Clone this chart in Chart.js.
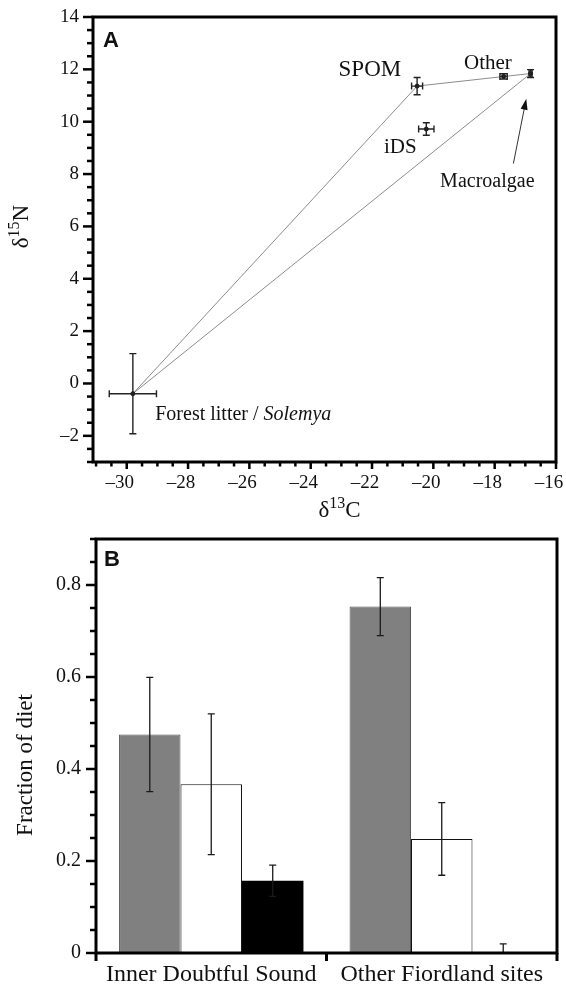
<!DOCTYPE html>
<html>
<head>
<meta charset="utf-8">
<script src="https://cdn.jsdelivr.net/npm/chart.js@4.4.1/dist/chart.umd.min.js"></script>
<style>
  body { margin: 0; background: #fff; }
  .panel { position: absolute; left: 0; width: 566px; }
</style>
</head>
<body>
<div class="panel" style="top:0;height:530px"><canvas id="chartA"></canvas></div>
<div class="panel" style="top:530px;height:459px"><canvas id="chartB"></canvas></div>
<script>
/* Panel A: isotope values of the sources (mean +/- sd) */
var sources = ['Forest litter / Solemya', 'SPOM', 'iDS', 'Other', 'Macroalgae'];
var d13C = [-29.80, -20.53, -20.23, -17.71, -16.83];
var d13CErr = [0.77, 0.18, 0.25, 0.12, 0.05];
var d15N = [-0.39, 11.36, 9.72, 11.73, 11.84];
var d15NErr = [1.53, 0.33, 0.24, 0.10, 0.15];
var mixingPath = [0, 1, 4, 0]; // forest litter -> SPOM -> macroalgae -> back
var xTicksA = [-30, -28, -26, -24, -22, -20, -18, -16];
var yTicksA = [-2, 0, 2, 4, 6, 8, 10, 12, 14];

/* Panel B: fraction of diet */
var sites = ['Inner Doubtful Sound', 'Other Fiordland sites'];
var dietGrey = [0.475, 0.753];
var dietGreyErr = [0.124, 0.063];
var dietWhite = [0.367, 0.248];
var dietWhiteErr = [0.153, 0.079];
var dietBlack = [0.157, 0];
var dietBlackErr = [0.034, 0.02];
var yTicksB = [0, 0.2, 0.4, 0.6, 0.8];

var serif = 'Liberation Serif';
var sans = 'Liberation Sans';

/* where the source names sit, in data units */
var labelSpots = [
	{ parts: [{ text: 'Forest litter / ', font: '20px ' + serif }, { text: 'Solemya', font: 'italic 20px ' + serif }], x: -29.07, y: -1.38, align: 'left' },
	{ parts: [{ text: 'SPOM', font: '23px ' + serif }], x: -22.07, y: 11.76, align: 'center' },
	{ parts: [{ text: 'iDS', font: '21px ' + serif }], x: -21.08, y: 8.79, align: 'center' },
	{ parts: [{ text: 'Other', font: '21px ' + serif }], x: -18.22, y: 12.02, align: 'center' },
	{ parts: [{ text: 'Macroalgae', font: '20px ' + serif }], x: -18.24, y: 7.52, align: 'center' }
];
var arrowFrom = { x: -17.39, y: 8.40 };
var arrowTo = { x: -16.97, y: 10.88 };

var dash = function(v){
	return String(v).replace('-', '\u2013');
};

/* stop Chart.js from reserving room for the end labels */
var noEdgePad = function(s){
	s.paddingLeft = 0;
	s.paddingRight = 0;
	s.paddingTop = 0;
	s.paddingBottom = 0;
};

var richText = function(ctx, parts, x, y, align){
	var widths = parts.map(function(p){ ctx.font = p.font; return ctx.measureText(p.text).width; });
	var total = widths.reduce(function(a, b){ return a + b; }, 0);
	var cx = align === 'center' ? x - total / 2 : x;
	ctx.textAlign = 'left';
	ctx.textBaseline = 'alphabetic';
	parts.forEach(function(p, i){
		ctx.font = p.font;
		ctx.fillText(p.text, cx, y - (p.rise || 0));
		cx += widths[i];
	});
};

/* box round the plot plus major/minor ticks outside it */
var drawFrame = function(chart, xMajors, xMinor, yMajors, yMinor){
	var ctx = chart.ctx, area = chart.chartArea;
	ctx.save();
	ctx.strokeStyle = '#000';
	ctx.lineWidth = 2.5;
	var axes = [[chart.scales.x, xMajors, xMinor, 7, 4.5], [chart.scales.y, yMajors, yMinor, 10, 6]];
	axes.forEach(function(a){
		var scale = a[0], majors = a[1], step = a[2];
		if (!step) return;
		var start = Math.ceil(scale.min / step - 1e-6);
		for (var k = start; k * step <= scale.max + 1e-6; k++) {
			var v = k * step;
			var isMajor = majors.some(function(m){ return Math.abs(m - v) < 1e-6; });
			var len = isMajor ? a[3] : a[4];
			var p = scale.getPixelForValue(v);
			ctx.beginPath();
			if (scale.isHorizontal()) { ctx.moveTo(p, area.bottom); ctx.lineTo(p, area.bottom + len); }
			else { ctx.moveTo(area.left, p); ctx.lineTo(area.left - len, p); }
			ctx.stroke();
		}
	});
	ctx.lineWidth = 3;
	ctx.strokeRect(area.left, area.top, area.right - area.left, area.bottom - area.top);
	ctx.restore();
};

var errorBarsA = {
	id: 'errorBarsA',
	afterDatasetsDraw: function(chart){
		var ctx = chart.ctx, xs = chart.scales.x, ys = chart.scales.y;
		ctx.save();
		ctx.strokeStyle = '#222';
		ctx.lineWidth = 1.4;
		sources.forEach(function(s, i){
			var px = xs.getPixelForValue(d13C[i]), py = ys.getPixelForValue(d15N[i]);
			var x0 = xs.getPixelForValue(d13C[i] - d13CErr[i]), x1 = xs.getPixelForValue(d13C[i] + d13CErr[i]);
			var y0 = ys.getPixelForValue(d15N[i] - d15NErr[i]), y1 = ys.getPixelForValue(d15N[i] + d15NErr[i]);
			ctx.beginPath();
			ctx.moveTo(x0, py); ctx.lineTo(x1, py);
			ctx.moveTo(x0, py - 3.5); ctx.lineTo(x0, py + 3.5);
			ctx.moveTo(x1, py - 3.5); ctx.lineTo(x1, py + 3.5);
			ctx.moveTo(px, y0); ctx.lineTo(px, y1);
			ctx.moveTo(px - 3.5, y0); ctx.lineTo(px + 3.5, y0);
			ctx.moveTo(px - 3.5, y1); ctx.lineTo(px + 3.5, y1);
			ctx.stroke();
		});
		ctx.restore();
	}
};

var decorA = {
	id: 'decorA',
	afterDraw: function(chart){
		var ctx = chart.ctx, area = chart.chartArea, xs = chart.scales.x, ys = chart.scales.y;
		drawFrame(chart, xTicksA, 0.5, yTicksA, 0.5);
		ctx.save();
		ctx.fillStyle = '#111';
		labelSpots.forEach(function(l){
			richText(ctx, l.parts, xs.getPixelForValue(l.x), ys.getPixelForValue(l.y), l.align);
		});
		/* arrow to the macroalgae point */
		var ax = xs.getPixelForValue(arrowFrom.x), ay = ys.getPixelForValue(arrowFrom.y);
		var bx = xs.getPixelForValue(arrowTo.x), by = ys.getPixelForValue(arrowTo.y);
		var ang = Math.atan2(by - ay, bx - ax);
		ctx.strokeStyle = '#333';
		ctx.lineWidth = 1;
		ctx.beginPath();
		ctx.moveTo(ax, ay);
		ctx.lineTo(bx - 8 * Math.cos(ang), by - 8 * Math.sin(ang));
		ctx.stroke();
		ctx.fillStyle = '#111';
		ctx.beginPath();
		ctx.moveTo(bx, by);
		ctx.lineTo(bx - 11 * Math.cos(ang) + 3.5 * Math.sin(ang), by - 11 * Math.sin(ang) - 3.5 * Math.cos(ang));
		ctx.lineTo(bx - 11 * Math.cos(ang) - 3.5 * Math.sin(ang), by - 11 * Math.sin(ang) + 3.5 * Math.cos(ang));
		ctx.closePath();
		ctx.fill();
		/* panel letter and axis titles */
		ctx.font = 'bold 22px ' + sans;
		ctx.textAlign = 'left';
		ctx.fillText('A', area.left + 10, area.top + 30);
		richText(ctx, [
			{ text: '\u03b4', font: '23px ' + serif },
			{ text: '13', font: '16px ' + serif, rise: 9 },
			{ text: 'C', font: '23px ' + serif }
		], (area.left + area.right) / 2 + 15, area.bottom + 55, 'center');
		ctx.translate(area.left - 65, (area.top + area.bottom) / 2 - 13);
		ctx.rotate(-Math.PI / 2);
		richText(ctx, [
			{ text: '\u03b4', font: '23px ' + serif },
			{ text: '15', font: '16px ' + serif, rise: 9 },
			{ text: 'N', font: '23px ' + serif }
		], 0, 0, 'center');
		ctx.restore();
	}
};

var chartA = new Chart(document.getElementById('chartA'), {
	type: 'scatter',
	data: {
		datasets: [
			{
				label: 'Mixing polygon',
				data: mixingPath.map(function(i){ return { x: d13C[i], y: d15N[i] }; }),
				showLine: true,
				borderColor: '#8c8c8c',
				borderWidth: 1,
				pointRadius: 0,
				order: 2
			},
			{
				label: 'Sources',
				data: sources.map(function(s, i){ return { x: d13C[i], y: d15N[i] }; }),
				pointRadius: 2,
				backgroundColor: '#111',
				borderColor: '#111',
				order: 1
			}
		]
	},
	options: {
		animation: false,
		responsive: true,
		maintainAspectRatio: false,
		layout: { padding: { top: 17, right: 10 } },
		plugins: { legend: { display: false }, tooltip: { enabled: false } },
		scales: {
			x: {
				type: 'linear', min: -31.1, max: -16,
				afterFit: function(s){ s.height = 68; noEdgePad(s); },
				afterBuildTicks: function(s){ s.ticks = xTicksA.map(function(v){ return { value: v }; }); },
				grid: { display: false, drawTicks: false },
				border: { display: false },
				ticks: { padding: 10, labelOffset: -7, color: '#111', font: { family: serif, size: 19 }, callback: dash }
			},
			y: {
				type: 'linear', min: -3, max: 14,
				afterFit: function(s){ s.width = 93; noEdgePad(s); },
				afterBuildTicks: function(s){ s.ticks = yTicksA.map(function(v){ return { value: v }; }); },
				grid: { display: false, drawTicks: false },
				border: { display: false },
				ticks: { padding: 14, color: '#111', font: { family: serif, size: 19 }, callback: dash }
			}
		}
	},
	plugins: [errorBarsA, decorA]
});

var errorBarsB = {
	id: 'errorBarsB',
	afterDatasetsDraw: function(chart){
		var ctx = chart.ctx, area = chart.chartArea, ys = chart.scales.y;
		var errs = [dietGreyErr, dietWhiteErr, dietBlackErr];
		ctx.save();
		ctx.beginPath();
		ctx.rect(area.left, area.top, area.right - area.left, area.bottom - area.top);
		ctx.clip();
		ctx.strokeStyle = '#1a1a1a';
		ctx.lineWidth = 1.3;
		chart.data.datasets.forEach(function(ds, d){
			chart.getDatasetMeta(d).data.forEach(function(bar, i){
				var v = ds.data[i], e = errs[d][i];
				var top = ys.getPixelForValue(v + e), bot = ys.getPixelForValue(v - e);
				ctx.beginPath();
				ctx.moveTo(bar.x, top); ctx.lineTo(bar.x, bot);
				ctx.moveTo(bar.x - 3.5, top); ctx.lineTo(bar.x + 3.5, top);
				ctx.moveTo(bar.x - 3.5, bot); ctx.lineTo(bar.x + 3.5, bot);
				ctx.stroke();
			});
		});
		ctx.restore();
	}
};

var decorB = {
	id: 'decorB',
	afterDraw: function(chart){
		var ctx = chart.ctx, area = chart.chartArea, xs = chart.scales.x;
		drawFrame(chart, [], 0, yTicksB, 0.05);
		ctx.save();
		ctx.strokeStyle = '#000';
		ctx.lineWidth = 3;
		for (var i = 0; i <= sites.length; i++) {
			var p = xs.getPixelForValue(i - 0.5);
			ctx.beginPath();
			ctx.moveTo(p, area.bottom);
			ctx.lineTo(p, area.bottom + 8);
			ctx.stroke();
		}
		ctx.fillStyle = '#111';
		ctx.font = 'bold 22px ' + sans;
		ctx.textAlign = 'left';
		ctx.textBaseline = 'alphabetic';
		ctx.fillText('B', area.left + 8, area.top + 27);
		ctx.translate(area.left - 64, (area.top + area.bottom) / 2 + 19);
		ctx.rotate(-Math.PI / 2);
		richText(ctx, [{ text: 'Fraction of diet', font: '23px ' + serif }], 0, 0, 'center');
		ctx.restore();
	}
};

var chartB = new Chart(document.getElementById('chartB'), {
	type: 'bar',
	data: {
		labels: sites,
		datasets: [
			{ label: 'Source 1', data: dietGrey, backgroundColor: '#808080', borderColor: '#555', borderWidth: 1 },
			{ label: 'Source 2', data: dietWhite, backgroundColor: '#fff', borderColor: '#111', borderWidth: 1 },
			{ label: 'Source 3', data: dietBlack, backgroundColor: '#000', borderColor: '#000', borderWidth: 0 }
		]
	},
	options: {
		animation: false,
		responsive: true,
		maintainAspectRatio: false,
		layout: { padding: { top: 9, right: 9 } },
		datasets: { bar: { categoryPercentage: 0.8, barPercentage: 1 } },
		plugins: { legend: { display: false }, tooltip: { enabled: false } },
		scales: {
			x: {
				afterFit: function(s){ s.height = 36; noEdgePad(s); },
				grid: { display: false, drawTicks: false },
				border: { display: false },
				ticks: { padding: 7, maxRotation: 0, autoSkip: false, color: '#111', font: { family: serif, size: 24 } }
			},
			y: {
				min: 0, max: 0.9,
				afterFit: function(s){ s.width = 96; noEdgePad(s); },
				afterBuildTicks: function(s){ s.ticks = yTicksB.map(function(v){ return { value: v }; }); },
				grid: { display: false, drawTicks: false },
				border: { display: false },
				ticks: { padding: 15, color: '#111', font: { family: serif, size: 20 }, callback: function(v){ return v === 0 ? '0' : v.toFixed(1); } }
			}
		}
	},
	plugins: [errorBarsB, decorB]
});
</script>
</body>
</html>
